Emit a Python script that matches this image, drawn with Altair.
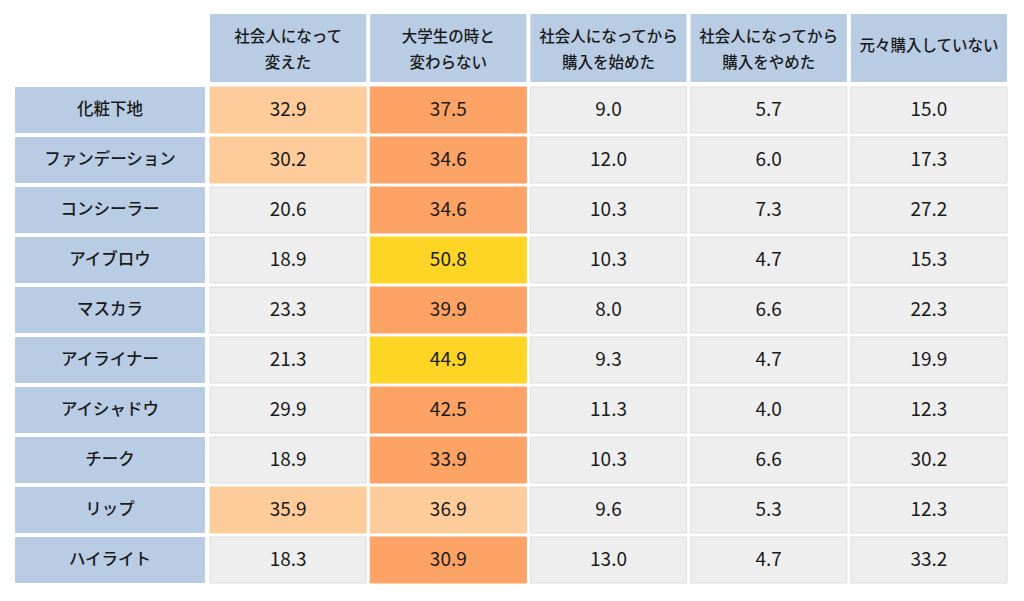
import altair as alt
import pandas as pd

rows = ['化粧下地', 'ファンデーション', 'コンシーラー', 'アイブロウ', 'マスカラ',
        'アイライナー', 'アイシャドウ', 'チーク', 'リップ', 'ハイライト']
cols = ['社会人になって\n変えた', '大学生の時と\n変わらない', '社会人になってから\n購入を始めた',
        '社会人になってから\n購入をやめた', '元々購入していない']

changed = [32.9, 30.2, 20.6, 18.9, 23.3, 21.3, 29.9, 18.9, 35.9, 18.3]
same = [37.5, 34.6, 34.6, 50.8, 39.9, 44.9, 42.5, 33.9, 36.9, 30.9]
started = [9.0, 12.0, 10.3, 10.3, 8.0, 9.3, 11.3, 10.3, 9.6, 13.0]
stopped = [5.7, 6.0, 7.3, 4.7, 6.6, 4.7, 4.0, 6.6, 5.3, 4.7]
never = [15.0, 17.3, 27.2, 15.3, 22.3, 19.9, 12.3, 30.2, 12.3, 33.2]

hl_changed = ['light', 'light', 'none', 'none', 'none', 'none', 'none', 'none', 'light', 'none']
hl_same = ['orange', 'orange', 'orange', 'yellow', 'orange', 'yellow', 'orange', 'orange', 'light', 'orange']
hl_none = ['none'] * 10

series = [changed, same, started, stopped, never]
highlights = [hl_changed, hl_same, hl_none, hl_none, hl_none]

records = []
for c, vals, hls in zip(cols, series, highlights):
    for r, v, h in zip(rows, vals, hls):
        records.append({'row': r, 'col': c, 'value': v, 'hl': h})
df = pd.DataFrame(records)

FONT = 'Noto Sans CJK JP'
BLUE = '#b8cce4'

hl_scale = alt.Scale(domain=['none', 'light', 'orange', 'yellow'],
                     range=['#eeeeee', '#fecc9b', '#fca365', '#fdd524'])
stroke_scale = alt.Scale(domain=['none', 'light', 'orange', 'yellow'],
                         range=['#dedede', '#fecc9b', '#fca365', '#fdd524'])

W_LABEL = 190
W_BODY = 797
H_HEAD = 68
H_BODY = 496

xs = alt.Scale(domain=cols, paddingInner=0.025, paddingOuter=0)
ys = alt.Scale(domain=rows, paddingInner=0.08, paddingOuter=0)

base = alt.Chart(df).encode(
    x=alt.X('col:N', scale=xs, axis=None, sort=cols),
    y=alt.Y('row:N', scale=ys, axis=None, sort=rows),
)
cells = base.mark_rect(strokeWidth=1).encode(
    color=alt.Color('hl:N', scale=hl_scale, legend=None),
    stroke=alt.Stroke('hl:N', scale=stroke_scale, legend=None),
)
nums = base.mark_text(font=FONT, fontSize=19, color='#1a1a1a', fontWeight=400).encode(
    text=alt.Text('value:Q', format='.1f')
)
body = (cells + nums).properties(width=W_BODY, height=H_BODY)

head_df = pd.DataFrame({'col': cols})
hbase = alt.Chart(head_df).encode(
    x=alt.X('col:N', scale=xs, axis=None, sort=cols),
)
head_rect = hbase.mark_rect(color=BLUE).encode(y=alt.value(0), y2=alt.value(H_HEAD))
txt_style = dict(font=FONT, fontSize=15.5, fontWeight=500, color='#1a1a1a',
                 lineBreak='\n', lineHeight=26)
head_multi = hbase.transform_filter("indexof(datum.col, '\\n') >= 0").mark_text(
    dy=-11, **txt_style).encode(y=alt.value(H_HEAD / 2), text='col:N')
head_single = hbase.transform_filter("indexof(datum.col, '\\n') < 0").mark_text(
    dy=-2, **txt_style).encode(y=alt.value(H_HEAD / 2), text='col:N')
header = (head_rect + head_multi + head_single).properties(width=W_BODY, height=H_HEAD)

lab_df = pd.DataFrame({'row': rows})
lbase = alt.Chart(lab_df).encode(
    y=alt.Y('row:N', scale=ys, axis=None, sort=rows),
)
lab_rect = lbase.mark_rect(color=BLUE).encode(x=alt.value(0), x2=alt.value(W_LABEL))
lab_txt = lbase.mark_text(font=FONT, fontSize=16.5, fontWeight=500, color='#1a1a1a').encode(
    x=alt.value(W_LABEL / 2), text='row:N')
labels = (lab_rect + lab_txt).properties(width=W_LABEL, height=H_BODY)

corner = alt.Chart(pd.DataFrame({'t': ['']})).mark_text().encode(
    text='t:N', x=alt.value(0), y=alt.value(0)
).properties(width=W_LABEL, height=H_HEAD)

chart = alt.vconcat(
    alt.hconcat(corner, header, spacing=4),
    alt.hconcat(labels, body, spacing=4),
    spacing=4,
).properties(
    padding={'left': 7, 'top': 0, 'right': 0, 'bottom': 0},
    background='white',
).configure_view(strokeWidth=0).configure_concat(spacing=4)

chart.save('out.html', embed_options={'renderer': 'svg', 'actions': False})
